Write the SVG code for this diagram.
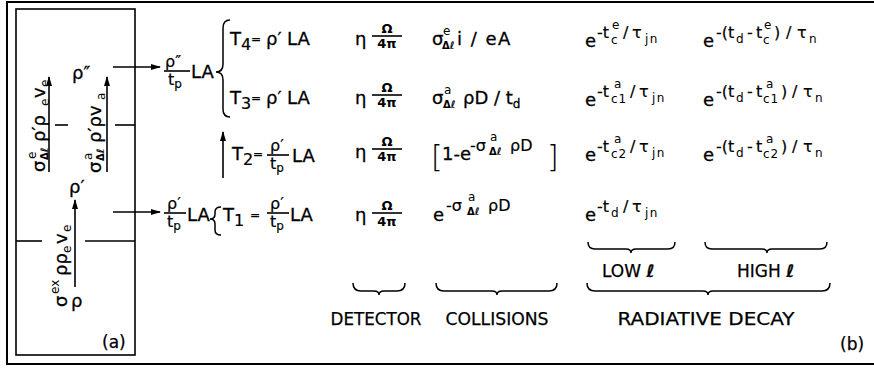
<svg xmlns="http://www.w3.org/2000/svg" width="874" height="368" viewBox="0 0 874 368">
<defs>
<style>
text{font-family:"DejaVu Sans","Liberation Sans",sans-serif;fill:#000}
.m{font-size:18px;stroke:#000;stroke-width:0.3}
.e{font-size:16px;stroke:#000;stroke-width:0.2}
.q{font-size:12px;stroke:#000;stroke-width:0.3}
.s{font-size:12px}
.ss{font-size:10px;font-weight:bold}
.f{font-size:13px;font-weight:bold}
.lab{font-size:17px;stroke:#000;stroke-width:0.25}
.ln{stroke:#000;stroke-width:1.6;fill:none}
.br{stroke:#000;stroke-width:1.5;fill:none}
.ar{stroke:#000;stroke-width:1.6;fill:none;marker-end:url(#ah)}
</style>
<marker id="ah" viewBox="0 0 10 6" refX="9" refY="3" markerWidth="10" markerHeight="6" markerUnits="userSpaceOnUse" orient="auto">
<path d="M0,0 L10,3 L0,6 z" fill="#000"/>
</marker>
</defs>
<rect x="7" y="2" width="875" height="362" fill="none" stroke="#000" stroke-width="2"/>

<g id="panel-a">
<rect x="16" y="9" width="119" height="346" fill="none" stroke="#000" stroke-width="1.6"/>
<line class="ln" x1="55" y1="125" x2="68" y2="125"/>
<line class="ln" x1="115" y1="125" x2="135" y2="125"/>
<line class="ln" x1="16" y1="241" x2="42" y2="241"/>
<line class="ln" x1="85" y1="241" x2="135" y2="241"/>
<text class="m" x="72" y="79">ρ″</text>
<text class="m" x="69" y="193">ρ′</text>
<text class="m" x="71" y="307">ρ</text>
<text class="lab" x="102" y="348">(a)</text>
<g transform="translate(45,172) rotate(-90)">
<text class="m" x="0" y="0">σ</text>
<text class="s" x="13" y="-9">e</text>
<text class="ss" x="12" y="3">Δℓ</text>
<text class="m" x="30" y="0">ρ′ρ</text>
<text class="s" x="66" y="4">e</text>
<text class="m" x="74" y="0">v</text>
<text class="s" x="85" y="4">e</text>
</g>
<g transform="translate(101,173) rotate(-90)">
<text class="m" x="0" y="0">σ</text>
<text class="s" x="13" y="-9">a</text>
<text class="ss" x="12" y="3">Δℓ</text>
<text class="m" x="30" y="0">ρ′ρv</text>
<text class="s" x="73" y="4">a</text>
</g>
<g transform="translate(67,307) rotate(-90)">
<text class="m" x="0" y="0">σ</text>
<text class="s" x="13" y="-8">ex</text>
<text class="m" x="31" y="0">ρρ</text>
<text class="s" x="54" y="4">e</text>
<text class="m" x="63" y="0">v</text>
<text class="s" x="75" y="4">e</text>
</g>
</g>

<g id="connectors">
<line class="ar" x1="49" y1="172" x2="49" y2="77"/>
<line class="ar" x1="107" y1="172" x2="107" y2="77"/>
<line class="ar" x1="75" y1="287" x2="75" y2="200"/>
<line class="ar" x1="113" y1="67" x2="160" y2="67"/>
<line class="ar" x1="113" y1="212" x2="160" y2="212"/>
<line class="ar" x1="223" y1="178" x2="223" y2="132"/>
<path class="br" d="M230,20 Q223,20 223,28 L223,64 Q223,72 216,72 Q223,72 223,80 L223,109 Q223,117 230,117"/>
<path class="br" d="M221,207 Q215,207 215,212 L215,214 Q215,219 210,219 Q215,219 215,224 L215,230 Q215,235 221,235"/>
<path class="br" d="M353,283 Q353,291 361,291 L374,291 Q379,291 379,295 Q379,291 384,291 L397,291 Q405,291 405,283"/>
<path class="br" d="M436,283 Q436,291 444,291 L492,291 Q497,291 497,295 Q497,291 502,291 L549,291 Q557,291 557,283"/>
<path class="br" d="M587,283 Q587,291 595,291 L703,291 Q708,291 708,295 Q708,291 713,291 L822,291 Q830,291 830,283"/>
<path class="br" d="M588,242 Q588,249 595,249 L626,249 Q631,249 631,253 Q631,249 636,249 L668,249 Q675,249 675,242"/>
<path class="br" d="M705,242 Q705,249 712,249 L762,249 Q767,249 767,253 Q767,249 772,249 L820,249 Q827,249 827,242"/>
</g>

<g id="flux-upper">
<text class="e" x="165" y="67">ρ″</text>
<line class="ln" x1="164" y1="71" x2="190" y2="71" stroke-width="1.3"/>
<text class="e" x="168" y="85">t<tspan class="s" dy="3">p</tspan></text>
<text class="m" x="191" y="78">LA</text>
</g>
<g id="flux-lower">
<text class="e" x="167" y="209">ρ′</text>
<line class="ln" x1="164" y1="213" x2="186" y2="213" stroke-width="1.3"/>
<text class="e" x="167" y="227">t<tspan class="s" dy="3">p</tspan></text>
<text class="m" x="187" y="221">LA</text>
</g>

<g id="T4">
<text class="m" y="45"><tspan x="230">T</tspan><tspan class="e" x="241" y="50">4</tspan><tspan class="q" x="251" y="43">=</tspan><tspan x="266" y="45">ρ′</tspan><tspan x="287">LA</tspan></text>
</g>
<g id="T3">
<text class="m" y="104"><tspan x="230">T</tspan><tspan class="e" x="241" y="109">3</tspan><tspan class="q" x="251" y="102">=</tspan><tspan x="266" y="104">ρ′</tspan><tspan x="287">LA</tspan></text>
</g>
<g id="T2">
<text class="m" y="160"><tspan x="232">T</tspan><tspan class="e" x="243" y="165">2</tspan><tspan class="q" x="253" y="158">=</tspan></text>
<text class="e" x="270" y="151">ρ′</text>
<line class="ln" x1="267" y1="155" x2="289" y2="155" stroke-width="1.3"/>
<text class="e" x="270" y="169">t<tspan class="s" dy="3">p</tspan></text>
<text class="m" x="292" y="162">LA</text>
</g>
<g id="T1">
<text class="m" y="221"><tspan x="223">T</tspan><tspan class="e" x="234" y="226">1</tspan><tspan class="q" x="250" y="219">=</tspan></text>
<text class="e" x="270" y="209">ρ′</text>
<line class="ln" x1="267" y1="213" x2="289" y2="213" stroke-width="1.3"/>
<text class="e" x="270" y="227">t<tspan class="s" dy="3">p</tspan></text>
<text class="m" x="290" y="221">LA</text>
</g>

<g id="detector">
<text class="m" x="355" y="45">η</text>
<text class="f" x="387" y="33" text-anchor="middle">Ω</text>
<line class="ln" x1="372" y1="36" x2="402" y2="36" stroke-width="1.3"/>
<text class="f" x="387" y="48" text-anchor="middle">4π</text>
<text class="m" x="355" y="104">η</text>
<text class="f" x="387" y="92" text-anchor="middle">Ω</text>
<line class="ln" x1="372" y1="95" x2="402" y2="95" stroke-width="1.3"/>
<text class="f" x="387" y="107" text-anchor="middle">4π</text>
<text class="m" x="355" y="158">η</text>
<text class="f" x="387" y="146" text-anchor="middle">Ω</text>
<line class="ln" x1="372" y1="149" x2="402" y2="149" stroke-width="1.3"/>
<text class="f" x="387" y="161" text-anchor="middle">4π</text>
<text class="m" x="355" y="221">η</text>
<text class="f" x="387" y="210" text-anchor="middle">Ω</text>
<line class="ln" x1="372" y1="213" x2="402" y2="213" stroke-width="1.3"/>
<text class="f" x="387" y="226" text-anchor="middle">4π</text>
</g>

<g id="collisions">
<text class="m" x="432" y="45">σ</text>
<text class="s" x="443" y="35">e</text>
<text class="ss" x="442" y="49">Δℓ</text>
<text class="m" x="457" y="45" letter-spacing="1.5">i / eA</text>
<text class="m" x="432" y="104">σ</text>
<text class="s" x="444" y="94">a</text>
<text class="ss" x="443" y="108">Δℓ</text>
<text class="m" x="463" y="104">ρD / t<tspan class="s" dy="4">d</tspan></text>
<text x="431" y="167" style="font-size:30px;font-weight:200">[</text>
<text class="m" x="442" y="160">1-e</text>
<text class="e" x="470" y="151">-σ</text>
<text class="s" x="490" y="141">a</text>
<text class="ss" x="489" y="155">Δℓ</text>
<text class="e" x="510" y="151">ρD</text>
<text x="547" y="167" style="font-size:30px;font-weight:200">]</text>
<text class="m" x="433" y="221">e</text>
<text class="e" x="446" y="211">-σ</text>
<text class="s" x="468" y="201">a</text>
<text class="ss" x="467" y="215">Δℓ</text>
<text class="e" x="488" y="211">ρD</text>
</g>

<g id="radiative-low">
<text class="m" x="585" y="47">e</text>
<text class="e" x="597" y="38">-t</text>
<text class="s" x="612" y="29">e</text>
<text class="s" x="611" y="44">c</text>
<text class="e" x="623" y="38">/</text>
<text class="e" x="632" y="38">τ</text>
<text class="s" x="645" y="43" letter-spacing="1.5">jn</text>
<text class="m" x="585" y="106">e</text>
<text class="e" x="597" y="97">-t</text>
<text class="s" x="614" y="88">a</text>
<text class="s" x="611" y="103" letter-spacing="1">c1</text>
<text class="e" x="630" y="97">/</text>
<text class="e" x="639" y="97">τ</text>
<text class="s" x="652" y="102" letter-spacing="1.5">jn</text>
<text class="m" x="585" y="161">e</text>
<text class="e" x="597" y="152">-t</text>
<text class="s" x="614" y="143">a</text>
<text class="s" x="611" y="158" letter-spacing="1">c2</text>
<text class="e" x="630" y="152">/</text>
<text class="e" x="639" y="152">τ</text>
<text class="s" x="652" y="157" letter-spacing="1.5">jn</text>
<text class="m" x="585" y="221">e</text>
<text class="e" x="597" y="212">-t</text>
<text class="s" x="611" y="217">d</text>
<text class="e" x="623" y="212">/</text>
<text class="e" x="632" y="212">τ</text>
<text class="s" x="645" y="217" letter-spacing="1.5">jn</text>
</g>

<g id="radiative-high">
<text class="m" x="703" y="47">e</text>
<text class="e" x="716" y="38">-(t</text>
<text class="s" x="736" y="43">d</text>
<text class="e" x="747" y="38">-</text>
<text class="e" x="756" y="38">t</text>
<text class="s" x="764" y="29">e</text>
<text class="s" x="763" y="44">c</text>
<text class="e" x="774" y="38">)</text>
<text class="e" x="786" y="38">/</text>
<text class="e" x="797" y="38">τ</text>
<text class="s" x="809" y="43">n</text>
<text class="m" x="703" y="106">e</text>
<text class="e" x="716" y="97">-(t</text>
<text class="s" x="736" y="102">d</text>
<text class="e" x="747" y="97">-</text>
<text class="e" x="756" y="97">t</text>
<text class="s" x="766" y="88">a</text>
<text class="s" x="763" y="103" letter-spacing="1">c1</text>
<text class="e" x="781" y="97">)</text>
<text class="e" x="792" y="97">/</text>
<text class="e" x="803" y="97">τ</text>
<text class="s" x="815" y="102">n</text>
<text class="m" x="703" y="161">e</text>
<text class="e" x="716" y="152">-(t</text>
<text class="s" x="736" y="157">d</text>
<text class="e" x="747" y="152">-</text>
<text class="e" x="756" y="152">t</text>
<text class="s" x="766" y="143">a</text>
<text class="s" x="763" y="158" letter-spacing="1">c2</text>
<text class="e" x="781" y="152">)</text>
<text class="e" x="792" y="152">/</text>
<text class="e" x="803" y="152">τ</text>
<text class="s" x="815" y="157">n</text>
</g>

<g id="labels">
<text class="lab" x="602" y="277">LOW <tspan font-weight="bold" font-style="italic">ℓ</tspan></text>
<text class="lab" x="737" y="277">HIGH <tspan font-weight="bold" font-style="italic">ℓ</tspan></text>
<text class="lab" x="376" y="325" text-anchor="middle" textLength="91" lengthAdjust="spacingAndGlyphs">DETECTOR</text>
<text class="lab" x="497" y="325" text-anchor="middle" textLength="103" lengthAdjust="spacingAndGlyphs">COLLISIONS</text>
<text class="lab" x="706" y="325" text-anchor="middle" textLength="177" lengthAdjust="spacingAndGlyphs">RADIATIVE DECAY</text>
<text class="lab" x="840" y="350">(b)</text>
</g>
</svg>
